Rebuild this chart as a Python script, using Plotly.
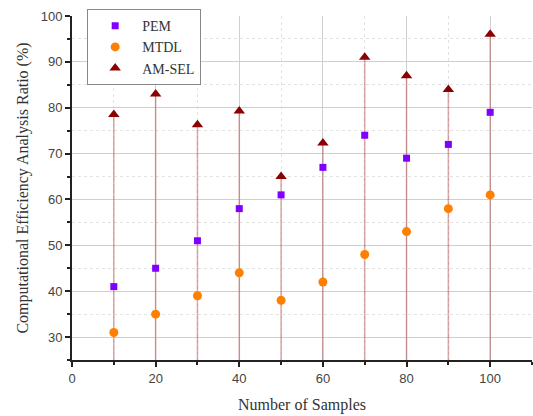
import plotly.graph_objects as go

samples = [10, 20, 30, 40, 50, 60, 70, 80, 90, 100]
pem = [41, 45, 51, 58, 61, 67, 74, 69, 72, 79]
mtdl = [31, 35, 39, 44, 38, 42, 48, 53, 58, 61]
amsel = [78.5, 83, 76.3, 79.3, 65, 72.3, 91, 87, 84, 96]

y_min, y_max = 25, 100
x_min, x_max = 0, 110

fig = go.Figure()

# drop lines from AM-SEL points to the x axis
fig.add_trace(go.Scatter(
    x=samples, y=amsel, mode="markers", showlegend=False, hoverinfo="skip",
    marker=dict(size=0.1, color="rgba(0,0,0,0)"),
    error_y=dict(type="data", symmetric=False, array=[0] * len(amsel),
                 arrayminus=[v - y_min for v in amsel],
                 color="rgba(170,50,50,0.4)", thickness=1.6, width=0),
))

fig.add_trace(go.Scatter(x=samples, y=pem, mode="markers", name="PEM",
                         marker=dict(symbol="square", size=7, color="#8000FF")))
fig.add_trace(go.Scatter(x=samples, y=mtdl, mode="markers", name="MTDL",
                         marker=dict(symbol="circle", size=9, color="#FF8000")))
fig.add_trace(go.Scatter(x=samples, y=amsel, mode="markers", name="AM-SEL",
                         marker=dict(symbol="triangle-up", size=10, color="#8B0000")))

axis_common = dict(
    showline=True, linecolor="#222", linewidth=2, ticks="outside",
    ticklen=5, tickwidth=1.5, tickcolor="#222", zeroline=False,
    showgrid=True, gridcolor="#cfcfcf", gridwidth=1, automargin=False,
    tickfont=dict(family="Liberation Sans, Arial", size=13, color="#444"),
)

fig.update_xaxes(
    range=[x_min, x_max], dtick=20, tick0=0,
    title=dict(text="Number of Samples",
               font=dict(family="Liberation Serif, Times New Roman", size=16, color="#333"),
               standoff=14),
    minor=dict(dtick=10, ticks="outside", ticklen=3, tickcolor="#222",
               showgrid=True, gridcolor="#e3e3e3", griddash="dot"),
    **axis_common,
)
fig.update_yaxes(
    range=[y_min, y_max], dtick=10, tick0=0,
    title=dict(text="Computational Efficiency Analysis Ratio (%)",
               font=dict(family="Liberation Serif, Times New Roman", size=16, color="#333"),
               standoff=8),
    minor=dict(dtick=5, ticks="outside", ticklen=3, tickcolor="#222",
               showgrid=True, gridcolor="#e3e3e3", griddash="dot"),
    **axis_common,
)

fig.update_layout(
    width=533, height=416,
    margin=dict(l=72, r=1, t=16, b=56, autoexpand=False),
    paper_bgcolor="white", plot_bgcolor="white",
    legend=dict(x=0.033, y=1.02, xanchor="left", yanchor="top",
                bgcolor="white", bordercolor="#888", borderwidth=1,
                itemwidth=44,
                font=dict(family="Liberation Serif, Times New Roman", size=14, color="#333")),
)

fig.write_html("out.html", config={"displayModeBar": False},
               post_script="document.body.style.margin='0';document.body.style.overflow='hidden';")
